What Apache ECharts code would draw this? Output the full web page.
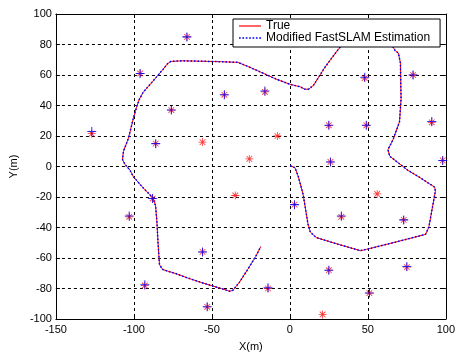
<!DOCTYPE html>
<html>
<head>
<meta charset="utf-8">
<script src="https://cdn.jsdelivr.net/npm/echarts@6/dist/echarts.min.js"></script>
<style>
  html, body { margin: 0; padding: 0; background: #fff; }
  #chart { width: 458px; height: 357px; }
</style>
</head>
<body>
<div id="chart"></div>
<script>
// Robot trajectory (metres): ground truth
const trueX = [0.2, 3.3, 5.4, 8.5, 11.6, 13.1, 16.9, 31, 45.2, 49.3, 68, 87, 89.1, 93.3, 92.9, 83, 75.5, 64, 62.9, 66.1, 70.3, 71.3, 70.9, 69.6, 67.5,
  64, 57, 45, 36,
  30.3, 22.5, 15.2, 12.1, 9.5, 6.8, 0.1, -8.3, -18.7, -27.1, -33.4, -43.8, -55, -69, -76.3, -78.4, -81.5, -87.8, -94.1, -96.6, -98.3, -100.4,
  -103.5, -106.7, -107.3, -105.6, -102.5, -100.4, -94.1, -87.8, -86.1, -85.3, -84.5, -83.6, -81.5, -73.2, -65.8, -56.4, -43.8, -38.6, -36.5,
  -32.3, -27.1, -21.9, -18.7];
const trueY = [0.5, -0.8, -6.6, -18.3, -37.6, -43, -46.6, -51, -55.2, -54.3, -49.5, -44.5, -39.8, -16.2, -13.6, -7, -2.4, 6.8, 11.1, 17.5, 29.3, 44.3, 67.8, 74.3, 76,
  82, 86, 87, 83,
  75.8, 65.1, 53.3, 50.7, 50.7, 52.2, 53.9, 57.1, 61.9, 65.7, 68.3, 68.7, 69, 69.3, 68.9, 67.4, 63.5, 56, 48.6, 43.9, 38.9, 31.4,
  18.5, 10, 4.6, 1.2, -2.4, -6.6, -14, -20.5, -25.8, -35.5, -50.5, -64.4, -67.6, -70.2, -73, -76.2, -80.1, -81.8, -81.2,
  -75.8, -67.6, -59, -52.6];

// Trajectory estimated by the modified FastSLAM filter
const estX = [0.2, 3.3, 5.4, 8.5, 11.6, 13.1, 16.9, 31, 45.2, 49.3, 68, 87, 89.1, 93.3, 92.9, 83, 75.5, 64, 62.9, 66.1, 70.3, 71.3, 70.9, 69.6, 67.5,
  64, 57, 45, 36,
  30.3, 22.5, 15.2, 12.1, 9.5, 6.8, 0.1, -8.3, -18.7, -27.1, -33.4, -43.8, -55, -69, -76.3, -78.4, -81.5, -87.8, -94.1, -96.6, -98.3, -100.4,
  -103.5, -106.7, -107.3, -105.6, -102.5, -100.4, -94.1, -87.8, -86.1, -85.3, -84.5, -83.6, -81.5, -73.2, -65.8, -56.4, -43.8, -38.6, -36.5,
  -32.3, -27.1, -21.9, -18.7];
const estY = [0.5, -0.8, -6.6, -18.3, -37.6, -43, -46.6, -51, -55.2, -54.3, -49.5, -44.5, -39.8, -16.2, -13.6, -7, -2.4, 6.8, 11.1, 17.5, 29.3, 44.3, 67.8, 74.3, 76,
  82, 86, 87, 83,
  75.8, 65.1, 53.3, 50.7, 50.7, 52.2, 53.9, 57.1, 61.9, 65.7, 68.3, 68.7, 69, 69.3, 68.9, 67.4, 63.5, 56, 48.6, 43.9, 38.9, 31.4,
  18.5, 10, 4.6, 1.2, -2.4, -6.6, -14, -20.5, -25.8, -35.5, -50.5, -64.4, -67.6, -70.2, -73, -76.2, -80.1, -81.8, -81.2,
  -75.8, -67.6, -59, -52.6];

// True landmark positions
const landmarkTrueX = [-127, -96, -66, -76, -86, -56, -42, -16, -26, -8, 25, 49, 48, 79, 91, 26, 98,
  -88, -103, -35, 3, 56, 33, 73, -56, -93, -53, -14, 25, 75, 51, 21];
const landmarkTrueY = [21.5, 61, 85, 37, 15, 16, 47, 49, 5, 20, 27, 27, 58, 60, 29, 3, 4,
  -21, -33, -19, -25, -18, -33, -35, -56, -78, -92, -80, -68, -66, -83, -97];

// Estimated landmark positions
const landmarkEstX = [-127, -96, -66, -76, -86, -42, -16, 25, 49, 48, 79, 91, 26, 98,
  -88, -103, 3, 33, 73, -56, -93, -53, -14, 25, 75, 51];
const landmarkEstY = [23, 61, 85, 37, 15, 47, 49.5, 27, 27, 58.5, 60, 29.5, 3, 4,
  -21, -32.5, -25, -32.5, -35, -56, -77.5, -92, -79.5, -68, -65.5, -83];

const xTicks = { min: -150, max: 100, interval: 50 };
const yTicks = { min: -100, max: 100, interval: 20 };

const zip = (xs, ys) => xs.map((x, i) => [x, ys[i]]);

// Marker shapes: '*' (asterisk) and '+' built from thin filled bars
const asterisk = 'path://M-0.8,-8L0.8,-8L0.8,8L-0.8,8Z' +
  'M-8,-0.8L8,-0.8L8,0.8L-8,0.8Z' +
  'M-5.09,-6.22L6.22,5.09L5.09,6.22L-6.22,-5.09Z' +
  'M6.22,-5.09L-5.09,6.22L-6.22,5.09L5.09,-6.22Z';
const plus = 'path://M-0.9,-8L0.9,-8L0.9,8L-0.9,8Z M-8,-0.9L8,-0.9L8,0.9L-8,0.9Z';

// Legend keys: a solid stroke and a row of dots
const solidKey = 'path://M0,0L22,0L22,1.2L0,1.2Z';
let dottedKey = 'path://';
for (let x = 0; x <= 20.5; x += 3) dottedKey += 'M' + x + ',0h1.5v1.5h-1.5Z';

const font = 'Liberation Sans, Arial, sans-serif';

const baseAxis = {
  type: 'value',
  axisLine: { show: true, onZero: false, lineStyle: { color: '#000', width: 1 } },
  axisTick: { show: true, inside: true, length: 4, lineStyle: { color: '#000' } },
  splitLine: { show: false }
};

const chart = echarts.init(document.getElementById('chart'), null, { renderer: 'canvas' });
chart.setOption({
  animation: false,
  backgroundColor: '#fff',
  grid: { left: 51, right: 9, top: 14, bottom: 32, containLabel: false },
  xAxis: [
    Object.assign({}, baseAxis, xTicks, {
      position: 'bottom',
      axisLabel: { color: '#000', fontSize: 11, fontFamily: font, margin: 5 },
      splitLine: { show: true, lineStyle: { color: '#000', type: [3, 3], width: 1 } },
      name: 'X(m)', nameLocation: 'middle', nameGap: 22,
      nameTextStyle: { color: '#000', fontSize: 11, fontFamily: font }
    }),
    Object.assign({}, baseAxis, xTicks, { position: 'top', axisLabel: { show: false } })
  ],
  yAxis: [
    Object.assign({}, baseAxis, yTicks, {
      position: 'left',
      axisLabel: { color: '#000', fontSize: 11, fontFamily: font, margin: 4 },
      splitLine: { show: true, lineStyle: { color: '#000', type: [3, 3], width: 1 } },
      name: 'Y(m)', nameLocation: 'middle', nameGap: 31,
      nameTextStyle: { color: '#000', fontSize: 11, fontFamily: font }
    }),
    Object.assign({}, baseAxis, yTicks, { position: 'right', axisLabel: { show: false } })
  ],
  legend: {
    data: [
      { name: 'True', icon: solidKey },
      { name: 'Modified FastSLAM Estimation', icon: dottedKey }
    ],
    orient: 'vertical',
    left: 233, top: 19,
    backgroundColor: '#fff',
    borderColor: '#000', borderWidth: 1, borderRadius: 0,
    padding: [1, 10, 3, 6],
    itemGap: 0, itemWidth: 22, itemHeight: 14,
    symbolKeepAspect: true,
    textStyle: { color: '#000', fontSize: 12, fontFamily: font },
    z: 10
  },
  series: [
    {
      name: 'True', type: 'line', symbol: 'none', z: 2,
      data: zip(trueX, trueY),
      lineStyle: { color: '#ff0000', width: 1 },
      itemStyle: { color: '#ff0000' }
    },
    {
      name: 'Modified FastSLAM Estimation', type: 'line', symbol: 'none', z: 3,
      data: zip(estX, estY),
      lineStyle: { color: '#0000ff', width: 1.5, type: [1.5, 2] },
      itemStyle: { color: '#0000ff' }
    },
    {
      name: 'True landmarks', type: 'scatter', z: 4,
      symbol: asterisk, symbolSize: 8,
      data: zip(landmarkTrueX, landmarkTrueY),
      itemStyle: { color: '#ff0000' }
    },
    {
      name: 'Estimated landmarks', type: 'scatter', z: 5,
      symbol: plus, symbolSize: 9,
      data: zip(landmarkEstX, landmarkEstY),
      itemStyle: { color: '#0000ff' }
    }
  ]
});
</script>
</body>
</html>
